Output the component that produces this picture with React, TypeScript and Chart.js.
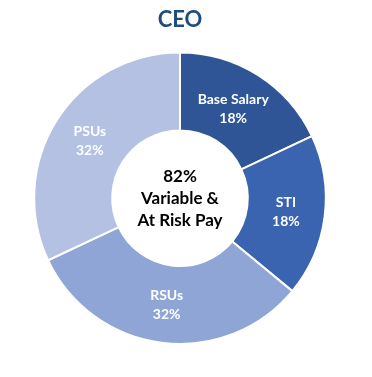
import React, { useEffect, useRef } from "react";
import { Chart, registerables } from "chart.js";

Chart.register(...registerables);

const categories = ["Base Salary", "STI", "RSUs", "PSUs"];
const values = [18, 18, 32, 32];
const valueLabels = ["18%", "18%", "32%", "32%"];
const colors = ["#2F5597", "#3A64B0", "#8FA5D6", "#B4C1E3"];
const titleText = "CEO";
const centerLines = ["82%", "Variable &", "At Risk Pay"];

const labelPlugin = {
  id: "sliceLabels",
  afterDatasetsDraw(chart: any) {
    const ctx = chart.ctx;
    const meta = chart.getDatasetMeta(0);
    ctx.save();
    ctx.textAlign = "center";
    ctx.textBaseline = "middle";
    ctx.fillStyle = "#FFFFFF";
    ctx.font = "bold 14px Lato";
    meta.data.forEach((arc: any, i: number) => {
      const p = arc.tooltipPosition();
      const dx = i === 0 ? -4 : 0;
      ctx.fillText(categories[i], p.x + dx, p.y - 9);
      ctx.fillText(valueLabels[i], p.x + dx, p.y + 10);
    });
    const a = meta.data[0];
    ctx.fillStyle = "#000000";
    ctx.font = "bold 17px Lato";
    centerLines.forEach((t, i) => {
      ctx.fillText(t, a.x, a.y - 22 + i * 22);
    });
    ctx.restore();
  },
};

export default function App() {
  const ref = useRef<HTMLCanvasElement>(null);
  useEffect(() => {
    const chart = new Chart(ref.current!, {
      type: "doughnut",
      data: {
        labels: categories,
        datasets: [
          {
            data: values,
            backgroundColor: colors,
            borderColor: "#FFFFFF",
            borderWidth: 2,
          },
        ],
      },
      options: {
        animation: false,
        responsive: false,
        cutout: "46.5%",
        layout: { padding: { left: 33, right: 45, top: 0, bottom: 32 } },
        plugins: {
          legend: { display: false },
          tooltip: { enabled: false },
          title: {
            display: true,
            text: titleText,
            color: "#1F4E79",
            font: { family: "Lato", size: 22, weight: "bold" },
            padding: { top: 7, bottom: 18 },
          },
        },
      },
      plugins: [labelPlugin],
    });
    return () => chart.destroy();
  }, []);
  return (
    <div style={{ position: "fixed", left: 0, top: 0, width: 372, height: 377, background: "#fff" }}>
      <canvas ref={ref} width={372} height={377} />
    </div>
  );
}
